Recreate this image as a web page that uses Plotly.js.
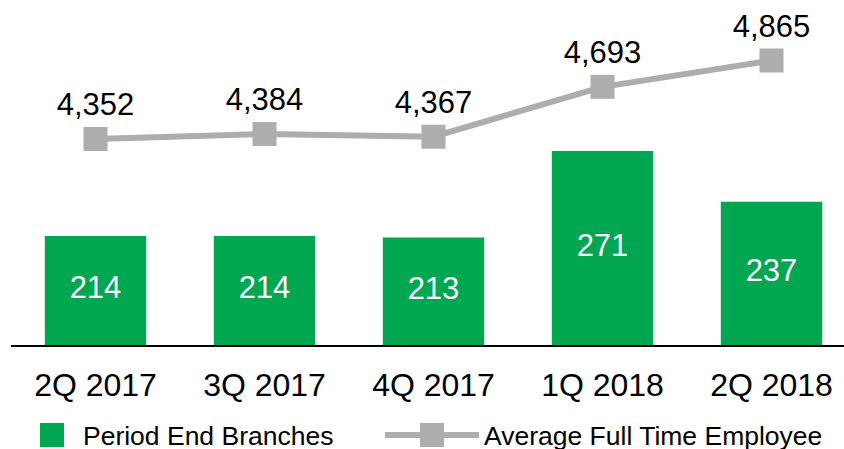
<!DOCTYPE html>
<html><head><meta charset="utf-8">
<script src="https://cdn.plot.ly/plotly-3.0.1.min.js"></script>
<style>html,body{margin:0;padding:0;background:#fff}#chart{width:844px;height:449px}</style>
</head><body><div id="chart"></div>
<script>
const categories = ["2Q 2017", "3Q 2017", "4Q 2017", "1Q 2018", "2Q 2018"];
const branches = [214, 214, 213, 271, 237];
const employees = [4352, 4384, 4367, 4693, 4865];

const FONT = "Liberation Sans, Arial, sans-serif";
const Y1 = [140.9, 372.3];
const Y2 = [3005.6, 5260.5];
// bar labels sit in the middle of the visible part of each bar
const branchLabelY = branches.map(v => (v + Y1[0]) / 2);

const traces = [
  {
    type: "bar", x: categories, y: branches, name: "Period End Branches",
    marker: {color: "#00A650"}, width: 0.6, textposition: "none",
    legend: "legend", hoverinfo: "none"
  },
  {
    type: "scatter", mode: "text", x: categories, y: branchLabelY,
    text: branches.map(String), textposition: "middle center",
    textfont: {color: "#ffffff", size: 31, family: FONT},
    showlegend: false, hoverinfo: "none"
  },
  {
    type: "scatter", mode: "lines+markers+text", x: categories, y: employees, yaxis: "y2",
    name: "Average Full Time Employee",
    line: {color: "#ADADAD", width: 6},
    marker: {symbol: "square", size: 24, color: "#ADADAD"},
    texttemplate: "%{y:,}", textposition: "top center",
    textfont: {color: "#000000", size: 31, family: FONT}, cliponaxis: false,
    legend: "legend2", hoverinfo: "none"
  }
];

const layout = {
  width: 844, height: 449,
  margin: {l: 11, r: 0, t: 0, b: 104, autoexpand: false},
  paper_bgcolor: "#ffffff", plot_bgcolor: "#ffffff",
  font: {family: FONT, color: "#000000"},
  showlegend: true,
  xaxis: {
    type: "category", range: [-0.5, 4.429],
    showline: true, linecolor: "#000000", linewidth: 2,
    showgrid: false, zeroline: false, ticks: "",
    tickfont: {size: 32, color: "#000000", family: FONT},
    ticklabelstandoff: 11, fixedrange: true
  },
  yaxis: {range: Y1, visible: false, showgrid: false, zeroline: false, fixedrange: true},
  yaxis2: {range: Y2, overlaying: "y", visible: false, showgrid: false, zeroline: false, fixedrange: true},
  legend: {
    orientation: "h", x: 0.012, xanchor: "left", y: -0.262, yanchor: "middle",
    font: {size: 26.5, color: "#000000", family: FONT}, itemwidth: 52,
    bgcolor: "rgba(0,0,0,0)", itemclick: false, itemdoubleclick: false
  },
  legend2: {
    orientation: "h", x: 0.443, xanchor: "left", y: -0.262, yanchor: "middle",
    font: {size: 26.5, color: "#000000", family: FONT}, itemwidth: 94, itemsizing: "trace",
    bgcolor: "rgba(0,0,0,0)", itemclick: false, itemdoubleclick: false
  }
};

function enlargeLegendSquares(root) {
  // reference legend squares are 24px; Plotly caps legend symbols smaller
  root.querySelectorAll("g.legendpoints path").forEach(p => {
    if (p.dataset.scaled) return;
    if (p.classList.contains("js-line") || p.classList.contains("js-fill")) return;
    const m = (p.getAttribute("d") || "").match(/^M([\d.]+),([\d.]+)H-([\d.]+)V-([\d.]+)H([\d.]+)Z$/);
    if (!m) return;
    const half = parseFloat(m[1]);
    if (!(half > 0)) return;
    const s = 12 / half;
    p.setAttribute("transform", ((p.getAttribute("transform") || "") + " scale(" + s + ")").trim());
    p.dataset.scaled = "1";
  });
}

const gdEl = document.getElementById("chart");
Plotly.newPlot(gdEl, traces, layout, {displayModeBar: false, staticPlot: true}).then(gd => {
  enlargeLegendSquares(gd);
  setTimeout(() => enlargeLegendSquares(gd), 0);
});
</script></body></html>
